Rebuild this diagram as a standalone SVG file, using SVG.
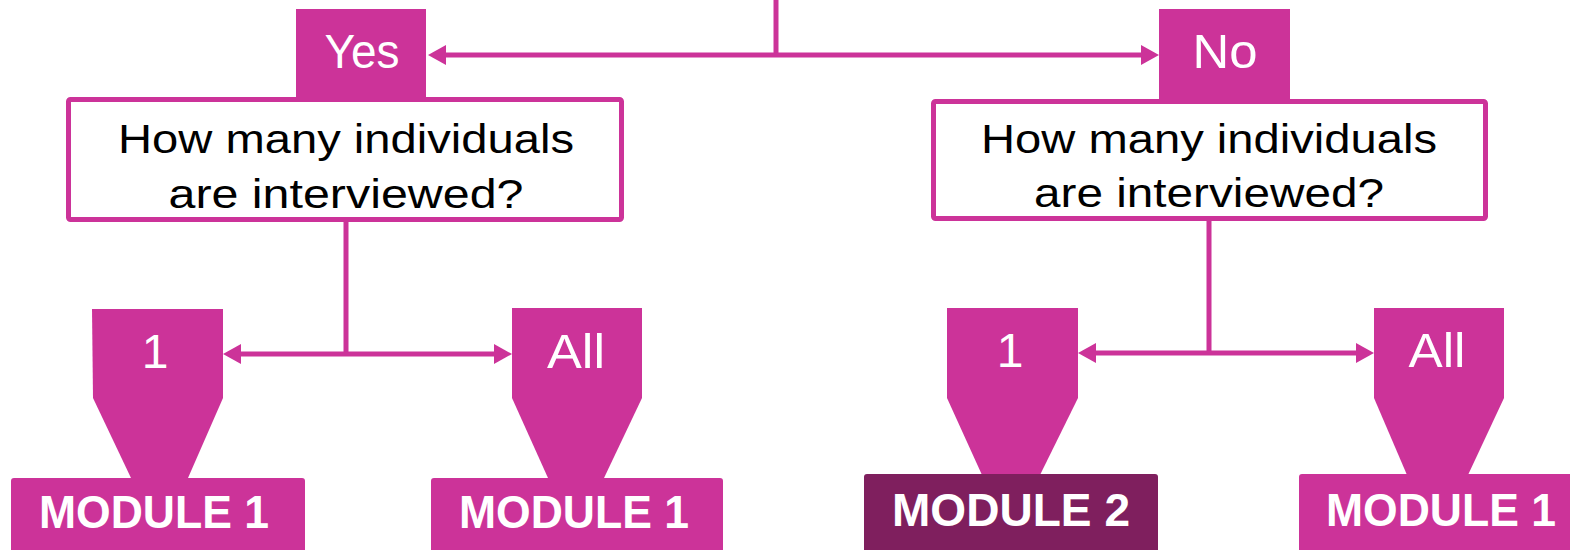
<svg xmlns="http://www.w3.org/2000/svg" width="1570" height="550" viewBox="0 0 1570 550">
  <style>
    .tag { fill: #CC3399; }
    .dark { fill: #7F1F5E; }
    .q { fill: #FFFFFF; stroke: #CC3399; stroke-width: 5; }
    .wire { stroke: #CC3399; stroke-width: 5; fill: none; }
    .lbl { font-family: "Liberation Sans", Arial, sans-serif; fill: #FFFFFF; font-size: 48px; text-anchor: middle; }
    .qt { font-family: "Liberation Sans", Arial, sans-serif; fill: #000000; font-size: 41px; text-anchor: middle; }
    .mod { font-family: "Liberation Sans", Arial, sans-serif; fill: #FFFFFF; font-size: 46px; font-weight: bold; text-anchor: middle; }
  </style>
  <defs>
    <marker id="arrow" markerUnits="userSpaceOnUse" viewBox="0 0 18 20" markerWidth="18" markerHeight="20" refX="8" refY="10" orient="auto-start-reverse">
      <path d="M0,0 L18,10 L0,20 Z" fill="#CC3399"/>
    </marker>
  </defs>

  <!-- connectors -->
  <g id="connectors">
    <line class="wire" x1="776" y1="0" x2="776" y2="55"/>
    <line class="wire" x1="438" y1="55" x2="1149" y2="55" marker-start="url(#arrow)" marker-end="url(#arrow)"/>
    <line class="wire" x1="346" y1="222" x2="346" y2="354"/>
    <line class="wire" x1="233" y1="354" x2="502" y2="354" marker-start="url(#arrow)" marker-end="url(#arrow)"/>
    <line class="wire" x1="1209" y1="220" x2="1209" y2="353"/>
    <line class="wire" x1="1088" y1="353" x2="1364" y2="353" marker-start="url(#arrow)" marker-end="url(#arrow)"/>
  </g>

  <!-- Yes branch -->
  <g id="yes">
    <rect class="tag" x="296" y="9" width="130" height="90"/>
    <text class="lbl" x="362" y="68" textLength="75" lengthAdjust="spacingAndGlyphs">Yes</text>
  </g>
  <g id="question-yes">
    <rect class="q" x="68.5" y="99.5" width="553" height="120" rx="2"/>
    <text class="qt" x="346" y="153" textLength="456" lengthAdjust="spacingAndGlyphs">How many individuals</text>
    <text class="qt" x="346" y="208" textLength="355" lengthAdjust="spacingAndGlyphs">are interviewed?</text>
  </g>

  <!-- No branch -->
  <g id="no">
    <rect class="tag" x="1159" y="9" width="131" height="92"/>
    <text class="lbl" x="1225" y="68" textLength="65" lengthAdjust="spacingAndGlyphs">No</text>
  </g>
  <g id="question-no">
    <rect class="q" x="933.5" y="101.5" width="552" height="117" rx="2"/>
    <text class="qt" x="1209" y="153" textLength="456" lengthAdjust="spacingAndGlyphs">How many individuals</text>
    <text class="qt" x="1209" y="207" textLength="350" lengthAdjust="spacingAndGlyphs">are interviewed?</text>
  </g>

  <!-- answer arrows: label block narrowing into the module box -->
  <g id="yes-one">
    <path class="tag" d="M92,309 H223 V398 L188,478 H131 L93,398 Z"/>
    <text class="lbl" x="155" y="368">1</text>
  </g>
  <g id="yes-all">
    <path class="tag" d="M512,308 H642 V398 L604,478 H548 L512,398 Z"/>
    <text class="lbl" x="576" y="368" textLength="58" lengthAdjust="spacingAndGlyphs">All</text>
  </g>
  <g id="no-one">
    <path class="tag" d="M947,308 H1078 V398 L1040,475 H982 L947,398 Z"/>
    <text class="lbl" x="1010" y="367">1</text>
  </g>
  <g id="no-all">
    <path class="tag" d="M1374,308 H1504 V398 L1468,475 H1407 L1374,398 Z"/>
    <text class="lbl" x="1437" y="367" textLength="57" lengthAdjust="spacingAndGlyphs">All</text>
  </g>

  <!-- modules -->
  <g id="module-yes-one">
    <rect class="tag" x="11" y="478" width="294" height="80" rx="3"/>
    <text class="mod" x="154" y="528" textLength="230" lengthAdjust="spacingAndGlyphs">MODULE 1</text>
  </g>
  <g id="module-yes-all">
    <rect class="tag" x="431" y="478" width="292" height="80" rx="3"/>
    <text class="mod" x="574" y="528" textLength="230" lengthAdjust="spacingAndGlyphs">MODULE 1</text>
  </g>
  <g id="module-no-one">
    <rect class="dark" x="864" y="474" width="294" height="84" rx="3"/>
    <text class="mod" x="1011" y="526" textLength="238" lengthAdjust="spacingAndGlyphs">MODULE 2</text>
  </g>
  <g id="module-no-all">
    <rect class="tag" x="1299" y="474" width="280" height="84" rx="3"/>
    <text class="mod" x="1441" y="526" textLength="230" lengthAdjust="spacingAndGlyphs">MODULE 1</text>
  </g>
</svg>
